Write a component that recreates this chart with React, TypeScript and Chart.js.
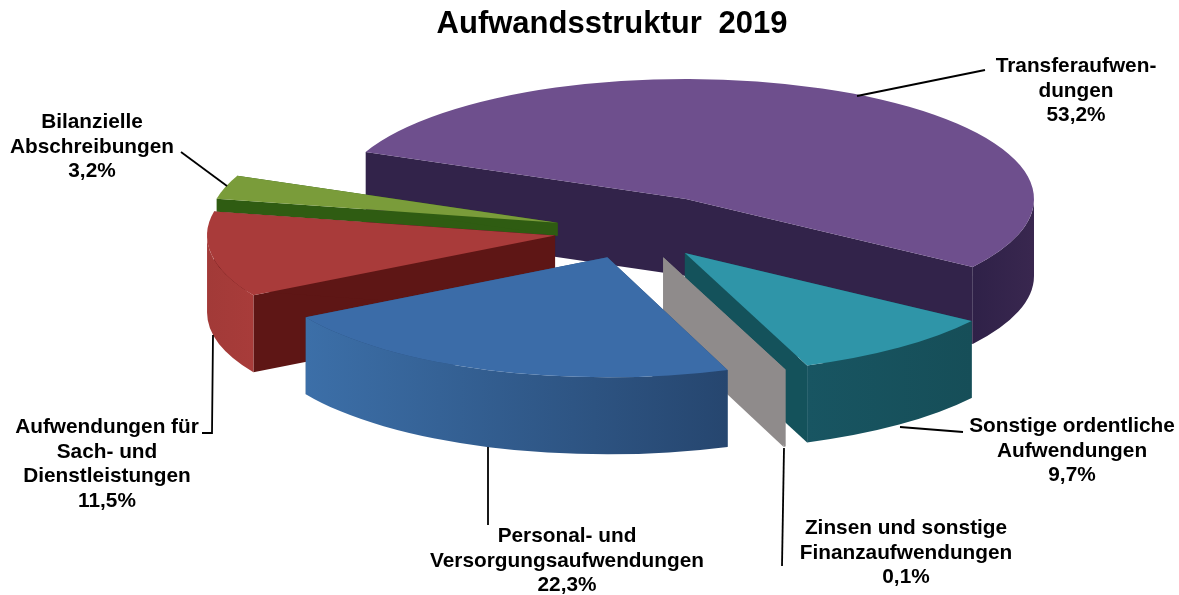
import React, { useEffect, useRef } from "react";
import { Chart, registerables } from "chart.js";

Chart.register(...registerables);

const categories = [
  "Transferaufwendungen",
  "Sonstige ordentliche Aufwendungen",
  "Zinsen und sonstige Finanzaufwendungen",
  "Personal- und Versorgungsaufwendungen",
  "Aufwendungen für Sach- und Dienstleistungen",
  "Bilanzielle Abschreibungen",
];
const shares = [53.2, 9.7, 0.1, 22.3, 11.5, 3.2];
const titleText = "Aufwandsstruktur 2019";
const labelLines = [
  ["Transferaufwen-", "dungen", "53,2%"],
  ["Sonstige ordentliche", "Aufwendungen", "9,7%"],
  ["Zinsen und sonstige", "Finanzaufwendungen", "0,1%"],
  ["Personal- und", "Versorgungsaufwendungen", "22,3%"],
  ["Aufwendungen für", "Sach- und", "Dienstleistungen", "11,5%"],
  ["Bilanzielle", "Abschreibungen", "3,2%"],
];

// styling
const topColors = ["#6e4f8d", "#2f95a8", "#8f8b8b", "#3b6ca8", "#a93b3a", "#7a9c3a"];
const wallColors = ["#32234a", "#14525b", "#8f8b8b", "#2a4c78", "#5e1615", "#2f5c12"];
const rimColors: string[][] = [
  ["#2f2148", "#39274f"],
  ["#185562", "#164e58"],
  ["#8f8b8b", "#8f8b8b"],
  ["#3c6fa8", "#26466f"],
  ["#a23a38", "#a83c3a"],
  ["#2f5c12", "#2f5c12"],
];
const slicePull = [106, 81, 81, 81, 81, 81];
const sliceDepth = [77, 77, 77, 77, 77, 13];
const paintOrder = [0, 5, 4, 1, 2, 3];
const labelCenters = [
  [1076, 66],
  [1072, 426],
  [906, 528],
  [567, 536],
  [107, 427],
  [92, 122],
];
const leaders = [
  [[857, 96], [985, 70]],
  [[900, 427], [963, 432]],
  [[784, 448], [782, 566]],
  [[488, 447], [488, 525]],
  [[213, 335], [212, 433], [202, 433]],
  [[181, 152], [227, 186]],
];

const CX = 635;
const CY = 231;
const K = 0.345;
const RADIUS = 348;
const TAU = Math.PI * 2;

const pie3d = {
  id: "pie3d",
  beforeDatasetsDraw(chart: any) {
    const ctx: CanvasRenderingContext2D = chart.ctx;
    const arcs = chart.getDatasetMeta(0).data;
    const dx = CX - arcs[0].x;
    const dy = CY - arcs[0].y;
    for (const i of paintOrder) {
      const el = arcs[i];
      const { x, y, startAngle: a0, endAngle: a1, outerRadius: r } = el.getProps(
        ["x", "y", "startAngle", "endAngle", "outerRadius"],
        true
      );
      const off = el.options.offset;
      const depth = sliceDepth[i];
      const mid = (a0 + a1) / 2;
      const ox = x + dx + off * Math.cos(mid);
      const oy = y + dy + off * K * Math.sin(mid);
      const px = (a: number) => ox + r * Math.cos(a);
      const py = (a: number) => oy + K * r * Math.sin(a);

      // radial walls
      ctx.fillStyle = wallColors[i];
      for (const a of [a0, a1]) {
        ctx.beginPath();
        ctx.moveTo(ox, oy);
        ctx.lineTo(px(a), py(a));
        ctx.lineTo(px(a), py(a) + depth);
        ctx.lineTo(ox, oy + depth);
        ctx.closePath();
        ctx.fill();
      }

      // outer rim, only where it faces the viewer
      const start = ((a0 % TAU) + TAU) % TAU;
      const end = start + (a1 - a0);
      const spans: number[][] = [];
      if (start < Math.PI) spans.push([start, Math.min(end, Math.PI)]);
      if (end > TAU) spans.push([TAU, Math.min(end, TAU + Math.PI)]);
      for (const [s, e] of spans) {
        const g = ctx.createLinearGradient(px(e), 0, px(s), 0);
        g.addColorStop(0, rimColors[i][0]);
        g.addColorStop(1, rimColors[i][1]);
        ctx.fillStyle = g;
        ctx.beginPath();
        ctx.ellipse(ox, oy, r, K * r, 0, s, e);
        ctx.ellipse(ox, oy + depth, r, K * r, 0, e, s, true);
        ctx.closePath();
        ctx.fill();
      }

      // top face
      ctx.fillStyle = topColors[i];
      ctx.beginPath();
      ctx.moveTo(ox, oy);
      ctx.ellipse(ox, oy, r, K * r, 0, a0, a1);
      ctx.closePath();
      ctx.fill();
    }
    return false;
  },
  afterDraw(chart: any) {
    const ctx: CanvasRenderingContext2D = chart.ctx;
    ctx.save();
    ctx.strokeStyle = "#000000";
    ctx.lineWidth = 1.8;
    for (const pts of leaders) {
      ctx.beginPath();
      pts.forEach(([x, y], n) => (n ? ctx.lineTo(x, y) : ctx.moveTo(x, y)));
      ctx.stroke();
    }
    ctx.fillStyle = "#000000";
    ctx.textAlign = "center";
    ctx.textBaseline = "middle";
    ctx.font = 'bold 20.8px "Liberation Sans"';
    labelLines.forEach((lines, i) => {
      const [x, y] = labelCenters[i];
      lines.forEach((t, n) => ctx.fillText(t, x, y + n * 24.8));
    });
    (ctx as any).wordSpacing = "8px";
    ctx.font = 'bold 31px "Liberation Sans"';
    ctx.fillText(titleText, 612, 24);
    ctx.restore();
  },
};

export default function App() {
  const ref = useRef<HTMLCanvasElement>(null);
  useEffect(() => {
    document.body.style.margin = "0";
    const chart = new Chart(ref.current!, {
      type: "pie",
      data: {
        labels: categories,
        datasets: [
          {
            data: shares,
            backgroundColor: topColors,
            borderWidth: 0,
            offset: slicePull,
          },
        ],
      },
      options: {
        responsive: false,
        animation: false,
        rotation: 293,
        radius: RADIUS,
        layout: { padding: 0 },
        plugins: { legend: { display: false }, tooltip: { enabled: false } },
      },
      plugins: [pie3d],
    } as any);
    return () => chart.destroy();
  }, []);
  return (
    <div style={{ width: 1179, height: 595 }}>
      <canvas ref={ref} width={1179} height={595} style={{ display: "block" }} />
    </div>
  );
}
